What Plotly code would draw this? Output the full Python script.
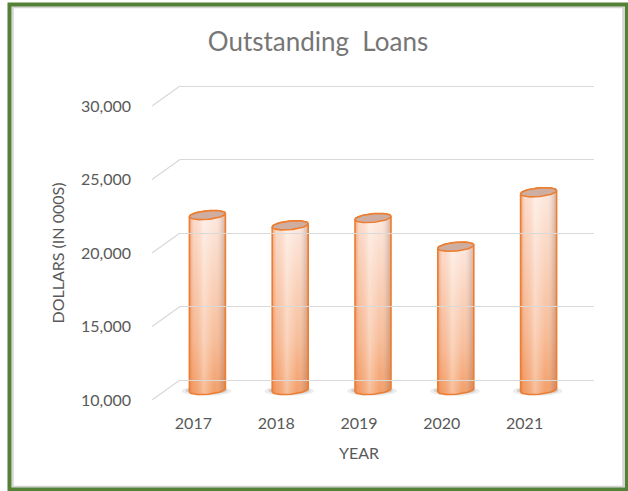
import numpy as np
import plotly.graph_objects as go

# ---------------- data ----------------
years = ["2017", "2018", "2019", "2020", "2021"]
loans = [21900, 21200, 21700, 19750, 23450]
y_ticks = [10000, 15000, 20000, 25000, 30000]
y_min, y_max = 10000, 30000
chart_title = "Outstanding  Loans"
x_title = "YEAR"
y_title = "DOLLARS (IN 000S)"

# ---------------- geometry (pixels) ----------------
W, H = 628, 491
FX0, FX1 = 152, 566        # front plane x extent
FY_TOP, FY_BOT = 106, 400  # front plane y at y_max / y_min
DX, DY = 28, -20           # depth offset (front -> back)
n = len(years)
ppx = (FX1 - FX0) / n                      # pixels per category
ppy = (FY_BOT - FY_TOP) / (y_max - y_min)  # pixels per value unit


def pxx(x):
    return x / W


def pxy(y):
    return 1 - y / H


def front_y(v, shift=0.0):
    return FY_BOT - (v - y_min) * ppy + shift


fig = go.Figure()

FONT = "Lato, 'Open Sans', sans-serif"
TXT = "#595959"
GRID = "#d9d9d9"

# front plane: tick labels
fig.update_layout(
    xaxis=dict(domain=[pxx(FX0), pxx(FX1)], range=[-0.5, n - 0.5], automargin=False,
               tickvals=list(range(n)), ticktext=years, showgrid=False,
               zeroline=False, showline=False, ticks="", ticklabelstandoff=12,
               tickfont=dict(family=FONT, size=16, color=TXT),
               title=dict(text=x_title, font=dict(family=FONT, size=16, color=TXT), standoff=16),
               fixedrange=True),
    yaxis=dict(domain=[pxy(FY_BOT), pxy(FY_TOP)], range=[y_min, y_max], automargin=False,
               tickvals=y_ticks, tickformat=",", showgrid=False, zeroline=False,
               showline=False, ticks="", ticklabelstandoff=20,
               tickfont=dict(family=FONT, size=16, color=TXT),
               title=dict(text=y_title, font=dict(family=FONT, size=16, color=TXT), standoff=12),
               fixedrange=True),
)

# back wall: gridlines (range padded slightly so edge gridlines are not clipped)
BX0, BX1 = FX0 + DX, FX1 + DX
BY_TOP, BY_BOT = FY_TOP + DY, FY_BOT + DY
pad = 3
fig.update_layout(
    xaxis3=dict(domain=[pxx(BX0), pxx(BX1)], range=[-0.5, n - 0.5], anchor="y3",
                automargin=False, visible=False),
    yaxis3=dict(domain=[pxy(BY_BOT + pad), pxy(BY_TOP - pad)],
                range=[y_min - pad / ppy, y_max + pad / ppy], anchor="x3", automargin=False,
                tickvals=y_ticks, showgrid=True, gridcolor=GRID, gridwidth=1.3,
                zeroline=False, showticklabels=False, showline=False, ticks=""),
)

# mid depth: cylinders (bigger domain so ellipses / shadows are not clipped)
MXOFF, MYOFF = DX / 2, DY / 2
MX0p, MX1p = 140, 610
MYTp, MYBp = 50, 420


def mid_xval(p):
    return (p - (FX0 + MXOFF)) / ppx - 0.5


def mid_yval(p):
    return y_min + ((FY_BOT + MYOFF) - p) / ppy


fig.update_layout(
    xaxis2=dict(domain=[pxx(MX0p), pxx(MX1p)], range=[mid_xval(MX0p), mid_xval(MX1p)],
                anchor="y2", visible=False, automargin=False),
    yaxis2=dict(domain=[pxy(MYBp), pxy(MYTp)], range=[mid_yval(MYBp), mid_yval(MYTp)],
                anchor="x2", visible=False, automargin=False),
)

fig.add_trace(go.Scatter(x=[None], y=[None], xaxis="x", yaxis="y", showlegend=False))
fig.add_trace(go.Scatter(x=[None], y=[None], xaxis="x3", yaxis="y3", showlegend=False))

# ---------- cylinders ----------
a = 18 / ppx          # half width (category units)
b = 4.3 / ppy         # ellipse half height (value units)
k = 1.6 / ppy         # slight tilt of ellipses

for i, v in enumerate(loans):
    th = np.linspace(0, 2 * np.pi, 60)
    for sa, sb, al, dy in [(25, 5, 0.10, 1.0), (21, 4, 0.18, 0.5)]:
        fig.add_trace(go.Scatter(
            x=i + (sa / ppx) * np.cos(th) - 1.0 / ppx,
            y=y_min + (sb / ppy) * np.sin(th) - dy / ppy,
            xaxis="x2", yaxis="y2", mode="lines", fill="toself",
            fillcolor=f"rgba(80,80,80,{al})", line=dict(width=0),
            hoverinfo="skip", showlegend=False))

    t_up = np.linspace(np.pi, 0, 40)
    t_dn = np.linspace(0, -np.pi, 40)
    xs = np.concatenate([i + a * np.cos(t_up), i + a * np.cos(t_dn), [i - a]])
    ys = np.concatenate([v + b * np.sin(t_up) + k * np.cos(t_up),
                         y_min + b * np.sin(t_dn) + k * np.cos(t_dn),
                         [v - k]])
    fig.add_trace(go.Scatter(
        x=xs, y=ys, xaxis="x2", yaxis="y2", mode="lines", fill="toself",
        fillgradient=dict(type="vertical",
                          colorscale=[[0, "#f39d66"], [0.3, "#f7bc98"], [1, "#fde9e0"]]),
        line=dict(width=0), hoverinfo="skip", showlegend=False))
    fig.add_trace(go.Scatter(
        x=xs, y=ys, xaxis="x2", yaxis="y2", mode="lines", fill="toself",
        fillgradient=dict(type="horizontal",
                          colorscale=[[0, "rgba(225,110,50,0.55)"],
                                      [0.12, "rgba(240,150,100,0.15)"],
                                      [0.4, "rgba(255,255,255,0.35)"],
                                      [0.7, "rgba(255,255,255,0.0)"],
                                      [0.9, "rgba(140,110,100,0.2)"],
                                      [1, "rgba(200,110,60,0.45)"]]),
        line=dict(color="#ed7d31", width=1.6), hoverinfo="skip", showlegend=False))
    th = np.linspace(0, 2 * np.pi, 80)
    fig.add_trace(go.Scatter(
        x=i + a * np.cos(th), y=v + b * np.sin(th) + k * np.cos(th),
        xaxis="x2", yaxis="y2", mode="lines", fill="toself",
        fillcolor="#cfaea2", line=dict(color="#ed7d31", width=1.6),
        hoverinfo="skip", showlegend=False))

# ---------- left-wall slanted grid lines ----------
shapes = []
for v in y_ticks:
    shapes.append(dict(type="line", xref="paper", yref="paper",
                       x0=pxx(FX0), y0=pxy(front_y(v)),
                       x1=pxx(FX0 + DX), y1=pxy(front_y(v, DY)),
                       line=dict(color=GRID, width=1.3), layer="below"))

# ---------- frame ----------
shapes.append(dict(type="rect", xref="paper", yref="paper",
                   x0=pxx(12.7), x1=pxx(623.3), y0=pxy(486.8), y1=pxy(7.2),
                   line=dict(color="#d4d4d4", width=2), layer="above"))
shapes.append(dict(type="rect", xref="paper", yref="paper",
                   x0=pxx(9.5), x1=pxx(626.8), y0=pxy(489.5), y1=pxy(4.5),
                   line=dict(color="#538135", width=4), layer="above"))

fig.update_layout(
    width=W, height=H, margin=dict(l=0, r=0, t=0, b=0, pad=0),
    paper_bgcolor="white", plot_bgcolor="rgba(0,0,0,0)",
    showlegend=False, shapes=shapes,
    title=dict(text=chart_title, x=pxx(318), y=pxy(42), xanchor="center",
               yanchor="middle", xref="paper", yref="paper", automargin=False,
               font=dict(family=FONT, size=26, color="#767676")),
)

fig.write_html("out.html", config={"displayModeBar": False})
